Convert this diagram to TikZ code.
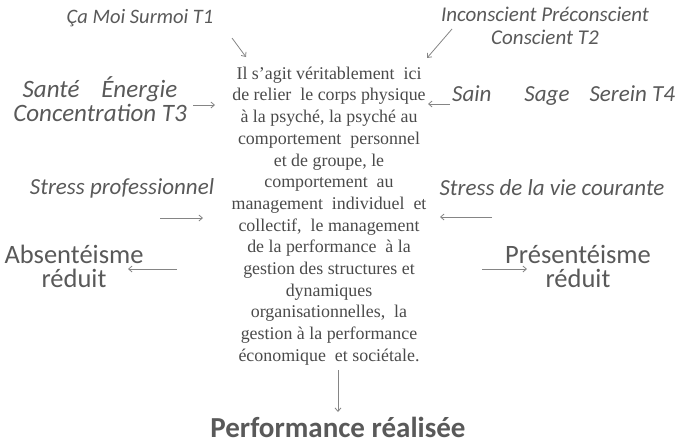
\documentclass[tikz,border=0pt]{standalone}
\usepackage{fontspec}
\setmainfont{Liberation Serif}
\newfontfamily\carlito{Carlito}
\usetikzlibrary{arrows.meta}
\definecolor{txt}{HTML}{595959}
\definecolor{serif}{HTML}{4A4A4A}
\definecolor{arr}{HTML}{858585}
\tikzset{
  lab/.style={text=txt, inner sep=0pt, align=center},
  conn/.style={draw=arr, line width=0.8pt, -{Straight Barb[length=3.5pt,width=6pt]}}
}
\begin{document}
\begin{tikzpicture}[x=1pt,y=-1pt]
\useasboundingbox (0,0) rectangle (688,445);
% labels
\node[lab, font=\carlito\itshape\fontsize{20.5}{22}\selectfont] (t1) at (140,18) {Ça Moi Surmoi T1};
\node[lab, font=\carlito\itshape\fontsize{21}{23}\selectfont] (t2) at (545,26) {Inconscient Préconscient\\Conscient T2};
\node[lab, font=\carlito\itshape\fontsize{25}{24}\selectfont] (t3) at (100,99) {Santé\hspace{22pt}Énergie\\Concentration T3};
\node[text=txt, inner sep=0pt, font=\carlito\itshape\fontsize{23}{22}\selectfont, anchor=west] (t4) at (452,96) {Sain\hspace{33pt}Sage\hspace{20pt}Serein T4};
\node[lab, font=\carlito\itshape\fontsize{23}{22}\selectfont] (sp) at (122,188) {Stress professionnel};
\node[lab, font=\carlito\itshape\fontsize{23}{22}\selectfont] (sv) at (552,188) {Stress de la vie courante};
\node[lab, font=\carlito\fontsize{26.5}{24}\selectfont] (ab) at (74,266) {Absentéisme\\réduit};
\node[lab, font=\carlito\fontsize{26.5}{24}\selectfont] (pr) at (578,266) {Présentéisme\\réduit};
\node[text=txt, inner sep=0pt, font=\carlito\bfseries\fontsize{29}{30}\selectfont] (perf) at (338,427) {Performance réalisée};
% central text
\node[text=serif, inner sep=0pt, align=center, font=\fontsize{17.9}{21.7}\selectfont] (ct) at (329,216)
 {Il s’agit véritablement\ \ ici\\
  de relier\ \ le corps physique\\
  à la psyché, la psyché au\\
  comportement\ \ personnel\\
  et de groupe, le\\
  comportement\ \ au\\
  management\ \ individuel\ \ et\\
  collectif,\ \ le management\\
  de la performance\ \ à la\\
  gestion des structures et\\
  dynamiques\\
  organisationnelles,\ \ la\\
  gestion à la performance\\
  économique\ \ et sociétale.};
% arrow end points
\coordinate (a1s) at (232,38);  \coordinate (a1e) at (246,57);
\coordinate (a2s) at (452,29);  \coordinate (a2e) at (427,58);
\coordinate (a3s) at (193,105); \coordinate (a3e) at (215,105);
\coordinate (a4s) at (450,104); \coordinate (a4e) at (428,104);
\coordinate (a5s) at (160,218); \coordinate (a5e) at (203,218);
\coordinate (a6s) at (492,217); \coordinate (a6e) at (440,217);
\coordinate (a7s) at (177,269); \coordinate (a7e) at (128,269);
\coordinate (a8s) at (482,269); \coordinate (a8e) at (527,269);
\coordinate (a9s) at (338,370); \coordinate (a9e) at (338,412);
\draw[conn] (a1s) -- (a1e);
\draw[conn] (a2s) -- (a2e);
\draw[conn] (a3s) -- (a3e);
\draw[conn] (a4s) -- (a4e);
\draw[conn] (a5s) -- (a5e);
\draw[conn] (a6s) -- (a6e);
\draw[conn] (a7s) -- (a7e);
\draw[conn] (a8s) -- (a8e);
\draw[conn] (a9s) -- (a9e);
\end{tikzpicture}
\end{document}
